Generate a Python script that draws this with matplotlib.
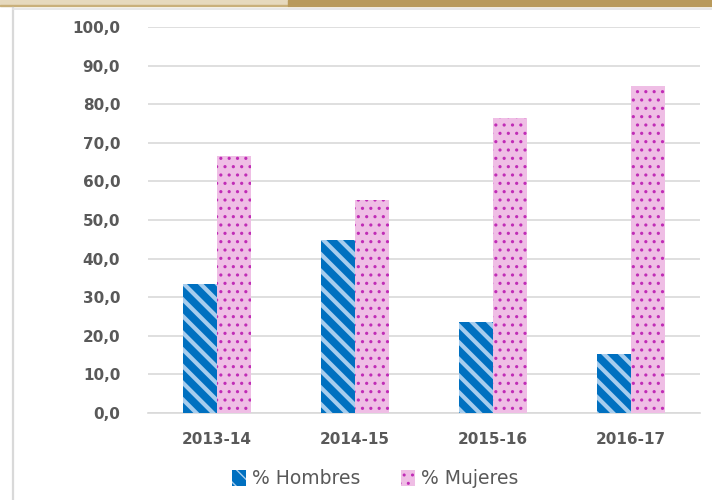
import numpy as np
import matplotlib
matplotlib.use("Agg")
import matplotlib.pyplot as plt
from matplotlib.patches import Rectangle
from matplotlib.lines import Line2D

cursos = ["2013-14", "2014-15", "2015-16", "2016-17"]
hombres = [33.3, 44.8, 23.5, 15.4]
mujeres = [66.7, 55.2, 76.5, 84.6]
yticks = [0, 10, 20, 30, 40, 50, 60, 70, 80, 90, 100]

BLUE = "#0070c0"; LBLUE = "#a7cdee"
PINK = "#efbee5"; MAG = "#c02cb6"
GREY = "#595959"; GRID = "#d9d9d9"

plt.rcParams["font.family"] = ["DejaVu Sans"]

fig = plt.figure(figsize=(7.12, 5.0), dpi=100)

# window chrome round the chart
fig.patches.append(Rectangle((0, 1 - 5 / 500), 288 / 712, 5 / 500, transform=fig.transFigure,
                             color="#e6d9bd", zorder=0))
fig.patches.append(Rectangle((0, 1 - 6 / 500), 288 / 712, 1.2 / 500, transform=fig.transFigure,
                             color="#c9b07a", zorder=0))
fig.patches.append(Rectangle((288 / 712, 1 - 6 / 500), 424 / 712, 6 / 500, transform=fig.transFigure,
                             color="#b99a5b", zorder=0))
fig.lines.append(Line2D([12.5 / 712, 12.5 / 712], [0, 1 - 8 / 500], transform=fig.transFigure,
                        color=GRID, lw=1.6))
fig.lines.append(Line2D([12.5 / 712, 1], [1 - 8.5 / 500, 1 - 8.5 / 500], transform=fig.transFigure,
                        color="#e4e4e4", lw=1.2))

ax = fig.add_axes([148 / 712, 1 - 413 / 500, 552 / 712, 386 / 500])
x = np.arange(len(cursos))
w = 0.243

with plt.rc_context({"hatch.linewidth": 3.0}):
    b1 = ax.bar(x - w / 2, hombres, w, color=BLUE, edgecolor=LBLUE, linewidth=0,
                hatch="\\\\", label="% Hombres", zorder=3)
with plt.rc_context({"hatch.linewidth": 1.1}):
    b2 = ax.bar(x + w / 2, mujeres, w, color=PINK, edgecolor=MAG, linewidth=0,
                hatch="..", label="% Mujeres", zorder=3)

ax.set_xlim(-0.5, len(cursos) - 0.5)
ax.set_ylim(0, 100)
ax.set_yticks(yticks)
ax.set_yticklabels([f"{v:.1f}".replace(".", ",") for v in yticks])
ax.set_xticks(x)
ax.set_xticklabels(cursos)
ax.tick_params(length=0, labelsize=11, labelcolor=GREY, pad=20)
ax.tick_params(axis="x", pad=14)
for lab in ax.get_xticklabels() + ax.get_yticklabels():
    lab.set_fontweight("bold")

ax.grid(axis="y", color=GRID, lw=1.2, zorder=0)
for s in ["top", "right", "left"]:
    ax.spines[s].set_visible(False)
ax.spines["bottom"].set_color(GRID)
ax.spines["bottom"].set_linewidth(1.2)

fig.legend(handles=[b1, b2], loc="center", bbox_to_anchor=(375 / 712, 1 - 479 / 500), ncol=2,
           frameon=False, fontsize=13.5, labelcolor=GREY, handlelength=0.75, handleheight=1.0,
           handletextpad=0.3, columnspacing=2.2)

fig.savefig("out.png", dpi=100)
